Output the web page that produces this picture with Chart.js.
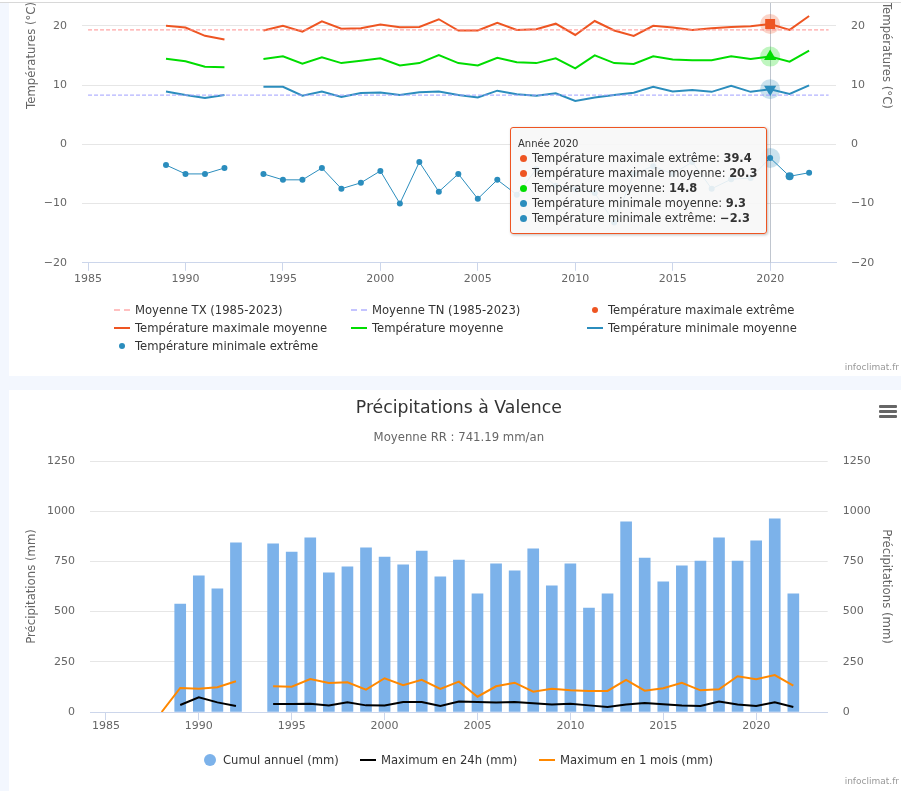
<!DOCTYPE html>
<html lang="fr">
<head>
<meta charset="utf-8">
<title>Climat Valence</title>
<script src="https://cdn.jsdelivr.net/npm/chart.js@4/dist/chart.umd.min.js"></script>
<style>
  html, body { margin: 0; padding: 0; width: 901px; height: 791px; overflow: hidden; background: #f3f7fe; font-family: "DejaVu Sans", sans-serif; }
  .strip { position: absolute; left: 0; top: 0; width: 901px; height: 2px; background: #fff; border-bottom: 1px solid #d8d8d8; }
  .panel { position: absolute; left: 9px; width: 892px; background: #fff; overflow: hidden; }
  #panelTemp { top: 3px; height: 373px; }
  #panelRain { top: 390px; height: 401px; }
  canvas { position: absolute; left: 0; display: block; }
  #tempChart { top: -200px; }
  #rainChart { top: 0; }
  .leg { position: absolute; font-size: 11.6px; line-height: 16px; color: #333; white-space: nowrap; }
  .mk { position: absolute; }
  .credit { position: absolute; right: 2px; font-size: 9px; line-height: 12px; color: #999; }
  #tip { position: absolute; left: 510px; top: 127px; width: 255px; height: 105px; box-sizing: content-box; background: rgba(247,247,247,.9); border: 1.5px solid #ee5522; border-radius: 3px; box-shadow: 1px 1px 3px rgba(0,0,0,.25); color: #333; }
  #tip div { position: absolute; white-space: nowrap; }
  #tip .t { left: 7px; top: 9px; font-size: 10px; line-height: 13px; }
  #tip .r { left: 21px; font-size: 11.45px; line-height: 15px; }
  #tip .d { left: 9px; width: 7px; height: 7px; border-radius: 50%; }
  #tip b { font-weight: 600; }
  .burger { position: absolute; left: 879px; width: 18px; height: 3px; background: #666; border-radius: 1px; }
</style>
</head>
<body>
<div class="strip"></div>
<div class="panel" id="panelTemp"><canvas id="tempChart" width="892" height="576"></canvas></div>
<div class="panel" id="panelRain"><canvas id="rainChart" width="892" height="401"></canvas></div>
<div class="burger" style="top:405px"></div>
<div class="burger" style="top:410px"></div>
<div class="burger" style="top:415px"></div>
<div id="tip"></div>

<script>
// years shared by every yearly series
const years = [1989, 1990, 1991, 1992, 1993, 1994, 1995, 1996, 1997, 1998, 1999, 2000,
  2001, 2002, 2003, 2004, 2005, 2006, 2007, 2008, 2009, 2010, 2011, 2012, 2013,
  2014, 2015, 2016, 2017, 2018, 2019, 2020, 2021, 2022];
const normalYears = [1985, 2023];
const xTicks = [1985, 1990, 1995, 2000, 2005, 2010, 2015, 2020];
const tempTicks = [-20, -10, 0, 10, 20, 30, 40, 50];
const rainTicks = [0, 250, 500, 750, 1000, 1250];

const normalTX = [19.3, 19.3];
const normalTN = [8.3, 8.3];
// only the 2020 value can be read (tooltip), the rest is above the visible area
const tempMaxExtreme = years.map(y => y === 2020 ? 39.4 : null);
const tempMaxMean = [20.0, 19.7, 18.3, 17.7, null, 19.2, 20.0, 19.0, 20.75, 19.5, 19.6, 20.2,
  19.75, 19.8, 21.1, 19.2, 19.2, 20.5, 19.3, 19.4, 20.35, 18.45, 20.8, 19.2, 18.3,
  20.0, 19.7, 19.3, 19.6, 19.8, 19.9, 20.3, 19.3, 21.65];
const tempMean = [14.45, 14.0, 13.1, 13.0, null, 14.4, 14.85, 13.6, 14.7, 13.7, 14.1, 14.5,
  13.3, 13.7, 15.05, 13.7, 13.3, 14.6, 13.85, 13.7, 14.5, 12.8, 15.0, 13.7, 13.55,
  14.85, 14.3, 14.2, 14.2, 14.85, 14.4, 14.8, 13.95, 15.8];
const tempMinMean = [8.9, 8.3, 7.8, 8.3, null, 9.7, 9.7, 8.2, 8.9, 8.0, 8.65, 8.75,
  8.3, 8.8, 8.9, 8.3, 7.9, 9.05, 8.45, 8.2, 8.6, 7.3, 7.9, 8.3, 8.7,
  9.7, 8.9, 9.15, 8.85, 9.85, 8.85, 9.3, 8.5, 9.95];
const tempMinExtreme = [-3.5, -5, -5, -4, null, -5, -6, -6, -4, -7.5, -6.5, -4.5,
  -10, -3, -8, -5, -9.2, -6, -8.5, -4.2, -7, -7.6, -8.2, -13.2, -5,
  -3.7, -5, -3, -7.5, -5.9, -5.7, -2.3, -5.4, -4.8];

const rainTotal = [538, 678, 613, 842, null, 837, 797, 867, 693, 723, 817, 772,
  733, 802, 673, 757, 588, 738, 703, 812, 628, 738, 518, 588, 947,
  767, 648, 728, 752, 867, 752, 852, 962, 588];
const rain24h = [35, 73, 48, 30, null, 40, 40, 41, 33, 48, 33, 32,
  50, 50, 30, 52, 50, 47, 50, 43, 37, 41, 33, 25, 37,
  45, 38, 32, 30, 52, 37, 30, 48, 25];
const rainMonthYears = [1988].concat(years);
const rainMonth = [0, 120, 116, 123, 153, null, 128, 126, 164, 145, 148, 111, 168,
  133, 160, 115, 151, 76, 128, 146, 101, 116, 108, 105, 105, 160,
  106, 118, 145, 108, 113, 178, 163, 184, 131];

const RED = '#ee5522', GREEN = '#00dd00', BLUE = '#2b8dbd';
const hoverYear = 2020;

function pts(xs, ys) {
  return xs.map((x, i) => ({ x: x, y: ys[i] }));
}

const font = { family: '"DejaVu Sans", sans-serif', size: 11 };
const minusSign = v => String(v).replace('-', '\u2212');

function xAxis(min, max, height, pad) {
  return {
    type: 'linear', min: min, max: max, offset: false,
    afterBuildTicks: s => { s.ticks = xTicks.map(v => ({ value: v })); },
    afterFit: s => { s.height = height; },
    grid: { offset: false, drawOnChartArea: false, color: '#ccd6eb', tickLength: 8 },
    border: { color: '#ccd6eb' },
    ticks: { font: font, color: '#666', padding: pad, maxRotation: 0, autoSkip: false, callback: v => String(v) }
  };
}

function yAxis(pos, ticks, min, max, width, title, titlePad) {
  return {
    type: 'linear', position: pos, min: min, max: max,
    afterBuildTicks: s => { s.ticks = ticks.map(v => ({ value: v })); },
    afterFit: s => { s.width = width; },
    grid: { display: pos === 'left', color: '#e6e6e6', drawTicks: false },
    border: { display: false },
    title: { display: true, text: title, color: '#666', font: { family: font.family, size: 11.7 }, padding: { top: titlePad, bottom: 0 } },
    ticks: { font: font, color: '#666', padding: 15, autoSkip: false, callback: minusSign }
  };
}

// halo and crosshair of the hovered year
const hoverPlugin = {
  id: 'hover',
  beforeDatasetsDraw(chart, args, opts) {
    const ctx = chart.ctx, x = chart.scales.x.getPixelForValue(hoverYear);
    ctx.save();
    ctx.strokeStyle = '#c0c6cf';
    ctx.lineWidth = 1;
    ctx.beginPath();
    ctx.moveTo(Math.round(x) + 0.5, chart.chartArea.top);
    ctx.lineTo(Math.round(x) + 0.5, chart.chartArea.bottom);
    ctx.stroke();
    ctx.restore();
    opts.series.forEach(i => {
      const meta = chart.getDatasetMeta(i);
      const ds = chart.data.datasets[i];
      const idx = ds.data.findIndex(p => p.x === hoverYear);
      const el = meta.data[idx];
      ctx.save();
      ctx.globalAlpha = 0.25;
      ctx.fillStyle = ds.borderColor;
      ctx.beginPath();
      ctx.arc(el.x, el.y, 10, 0, Math.PI * 2);
      ctx.fill();
      ctx.restore();
    });
  }
};

function markerAtHover(ds, style, rotation, radius) {
  return Object.assign(ds, {
    pointStyle: style,
    pointRotation: rotation,
    pointRadius: c => years[c.dataIndex] === hoverYear ? radius : 0,
    pointBackgroundColor: ds.borderColor,
    pointBorderWidth: 0
  });
}

function lineDs(label, xs, ys, color, width) {
  return { type: 'line', label: label, data: pts(xs, ys), borderColor: color, backgroundColor: color, borderWidth: width, tension: 0, spanGaps: false };
}

const tempChart = new Chart(document.getElementById('tempChart'), {
  type: 'line',
  data: {
    datasets: [
      Object.assign(lineDs('Moyenne TX (1985-2023)', normalYears, normalTX, '#ff8f8f', 1), { borderDash: [4, 2], pointRadius: 0 }),
      Object.assign(lineDs('Moyenne TN (1985-2023)', normalYears, normalTN, '#9f9fff', 1), { borderDash: [4, 2], pointRadius: 0 }),
      Object.assign(lineDs('Température maximale extrême', years, tempMaxExtreme, RED, 0), { showLine: false, pointRadius: 3 }),
      markerAtHover(lineDs('Température maximale moyenne', years, tempMaxMean, RED, 2), 'rect', 0, 7),
      markerAtHover(lineDs('Température moyenne', years, tempMean, GREEN, 2), 'triangle', 0, 7),
      markerAtHover(lineDs('Température minimale moyenne', years, tempMinMean, BLUE, 2), 'triangle', 180, 7),
      Object.assign(lineDs('Température minimale extrême', years, tempMinExtreme, BLUE, 1), {
        pointBackgroundColor: BLUE, pointBorderWidth: 0,
        pointRadius: c => years[c.dataIndex] === 2021 ? 4 : 3
      })
    ]
  },
  options: {
    responsive: false, animation: false, devicePixelRatio: 1, events: [],
    layout: { padding: { top: 45 } },
    scales: {
      x: xAxis(1984.69, 2023.38, 116.2, 2),
      y: yAxis('left', tempTicks, -20, 50, 73, 'Températures (°C)', 15.5),
      y2: yAxis('right', tempTicks, -20, 50, 65, 'Températures (°C)', 8)
    },
    plugins: {
      legend: { display: false },
      hover: { series: [3, 4, 5, 6] },
      tooltip: {
        enabled: false,
        external: drawTip,
        callbacks: {
          title: items => 'Année ' + items[0].parsed.x,
          label: item => item.dataset.label + '|' + minusSign(item.parsed.y)
        }
      }
    }
  },
  plugins: [hoverPlugin]
});

function drawTip(context) {
  const t = context.tooltip, box = document.getElementById('tip');
  if (!t.body) return;
  let html = '<div class="t">' + t.title[0] + '</div>';
  t.body.forEach((b, i) => {
    const parts = b.lines[0].split('|');
    const top = 23 + i * 15;
    html += '<div class="d" style="top:' + (top + 4) + 'px;background:' + t.labelColors[i].backgroundColor + '"></div>';
    html += '<div class="r" style="top:' + top + 'px">' + parts[0] + ': <b>' + parts[1] + '</b></div>';
  });
  box.innerHTML = html;
}

const tipIdx = years.indexOf(hoverYear);
tempChart.tooltip.setActiveElements([2, 3, 4, 5, 6].map(d => ({ datasetIndex: d, index: tipIdx })), { x: 0, y: 0 });

new Chart(document.getElementById('rainChart'), {
  type: 'bar',
  data: {
    datasets: [
      Object.assign(lineDs('Maximum en 24h (mm)', years, rain24h, '#000000', 2), { pointRadius: 0, order: 1 }),
      Object.assign(lineDs('Maximum en 1 mois (mm)', rainMonthYears, rainMonth, '#ff8800', 2), { pointRadius: 0, order: 1 }),
      { type: 'bar', label: 'Cumul annuel (mm)', data: pts(years, rainTotal), backgroundColor: '#7cb2ea', barThickness: 11, order: 2 }
    ]
  },
  options: {
    responsive: false, animation: false, devicePixelRatio: 1, events: [],
    scales: {
      x: xAxis(1984.144, 2023.85, 79, 0),
      y: yAxis('left', rainTicks, 0, 1250, 81, 'Précipitations (mm)', 15.5),
      y2: yAxis('right', rainTicks, 0, 1250, 73.3, 'Précipitations (mm)', 8)
    },
    plugins: {
      legend: { display: false },
      tooltip: { enabled: false },
      title: { display: true, fullSize: false, text: 'Précipitations à Valence', color: '#333', font: { family: font.family, size: 17.3, weight: 'normal' }, padding: { top: 8.5, bottom: 11.5 } },
      subtitle: { display: true, fullSize: false, text: 'Moyenne RR : 741.19 mm/an', color: '#666', font: { family: font.family, size: 11.7 }, padding: { top: 0, bottom: 16.2 } }
    }
  }
});

// legends are laid out in fixed columns, so they are plain html
function legendItem(textX, y, kind, color, label) {
  const text = document.createElement('div');
  text.className = 'leg';
  text.style.left = textX + 'px';
  text.style.top = (y - 8) + 'px';
  text.textContent = label;
  document.body.appendChild(text);
  const mark = document.createElement('div');
  mark.className = 'mk';
  if (kind === 'line' || kind === 'dash') {
    mark.style.cssText += 'left:' + (textX - 21) + 'px;top:' + (y - 1) + 'px;width:16px;height:0;border-top:2px ' + (kind === 'dash' ? 'dashed' : 'solid') + ' ' + color;
  } else {
    const r = kind === 'big' ? 6 : 3;
    mark.style.cssText += 'left:' + (textX - 13 - r) + 'px;top:' + (y - r) + 'px;width:' + 2 * r + 'px;height:' + 2 * r + 'px;border-radius:50%;background:' + color;
  }
  document.body.appendChild(mark);
}

legendItem(135, 310, 'dash', '#ffc0c0', 'Moyenne TX (1985-2023)');
legendItem(372, 310, 'dash', '#c4c4ff', 'Moyenne TN (1985-2023)');
legendItem(608, 310, 'dot', RED, 'Température maximale extrême');
legendItem(135, 328, 'line', RED, 'Température maximale moyenne');
legendItem(372, 328, 'line', GREEN, 'Température moyenne');
legendItem(608, 328, 'line', BLUE, 'Température minimale moyenne');
legendItem(135, 346, 'dot', BLUE, 'Température minimale extrême');
legendItem(223, 760, 'big', '#7cb2ea', 'Cumul annuel (mm)');
legendItem(381, 760, 'line', '#000000', 'Maximum en 24h (mm)');
legendItem(560, 760, 'line', '#ff8800', 'Maximum en 1 mois (mm)');

[367, 781].forEach(y => {
  const c = document.createElement('div');
  c.className = 'credit';
  c.style.top = (y - 6) + 'px';
  c.textContent = 'infoclimat.fr';
  document.body.appendChild(c);
});
</script>
</body>
</html>
